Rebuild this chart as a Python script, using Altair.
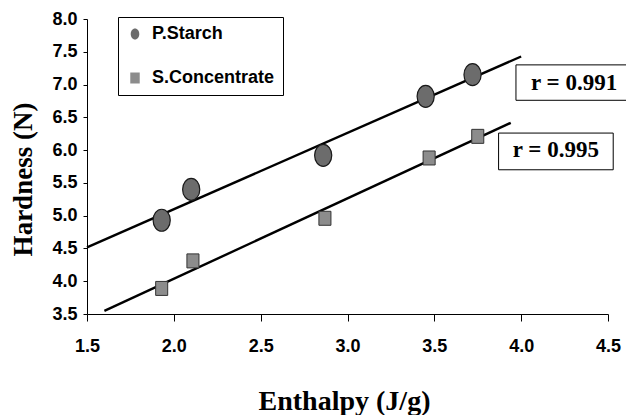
import altair as alt
import pandas as pd

# ---- data ----
series = ["P.Starch", "S.Concentrate"]
enthalpy_starch = [1.93, 2.10, 2.86, 3.45, 3.72]
hardness_starch = [4.93, 5.40, 5.92, 6.82, 7.15]
enthalpy_conc = [1.93, 2.11, 2.87, 3.47, 3.75]
hardness_conc = [3.89, 4.31, 4.96, 5.88, 6.21]
fit_extent_starch = [1.5, 4.0]
fit_extent_conc = [1.6, 3.94]
r_labels = ["r = 0.991", "r = 0.995"]
x_ticks = [1.5, 2.0, 2.5, 3.0, 3.5, 4.0, 4.5]
y_ticks = [3.5, 4.0, 4.5, 5.0, 5.5, 6.0, 6.5, 7.0, 7.5, 8.0]

points = pd.DataFrame({
    "Enthalpy": enthalpy_starch + enthalpy_conc,
    "Hardness": hardness_starch + hardness_conc,
    "series": [series[0]] * len(enthalpy_starch) + [series[1]] * len(enthalpy_conc),
})

# annotation boxes anchored in data space
annot = pd.DataFrame({
    "label": r_labels,
    "x0": [3.97, 3.87], "x1": [4.72, 4.53],
    "y0": [6.76, 5.70], "y1": [7.30, 6.26],
    "tx": [4.305, 4.20], "ty": [7.02, 6.00],
})

ellipse = "M-0.78,0A0.78,1,0,1,0,0.78,0A0.78,1,0,1,0,-0.78,0Z"
square = "M-0.86,-1H0.86V1H-0.86Z"

xscale = alt.Scale(domain=[1.5, 4.5], nice=False, zero=False)
yscale = alt.Scale(domain=[3.5, 8.0], nice=False, zero=False)

xaxis = alt.Axis(values=x_ticks, format=".1f", title="Enthalpy (J/g)", grid=False,
                 tickSize=7, labelPadding=16, labelFontSize=18,
                 labelOverlap=False, labelFlush=False,
                 titleFont="Liberation Serif", titleFontSize=28, titleFontWeight="bold",
                 titleX=257, titleY=95, titleBaseline="alphabetic", titleAlign="center")
yaxis = alt.Axis(values=y_ticks, format=".1f", title="Hardness (N)", grid=False,
                 tickSize=4, labelPadding=6, labelFontSize=18,
                 labelOverlap=False, labelFlush=False, labelBound=False,
                 titleFont="Liberation Serif", titleFontSize=27, titleFontWeight="bold",
                 titleX=-64, titleY=160, titleAngle=270, titleBaseline="middle",
                 titleAlign="center")

legend = alt.Legend(title=None, orient="none", legendX=31, legendY=-2,
                    strokeColor="black", fillColor="white", padding=8, rowPadding=26,
                    labelFont="Liberation Sans", labelFontWeight="bold", labelFontSize=18,
                    labelColor="black", labelOffset=8, symbolSize=121,
                    symbolStrokeColor="#222222", symbolStrokeWidth=1)

shape_enc = alt.Shape("series:N", scale=alt.Scale(domain=series, range=[ellipse, square]),
                      legend=legend)
fill_enc = alt.Fill("series:N", scale=alt.Scale(domain=series, range=["#6c6c6c", "#8c8c8c"]),
                    legend=legend)


def X(field):
    return alt.X(field, type="quantitative", scale=xscale, axis=xaxis)


def Y(field):
    return alt.Y(field, type="quantitative", scale=yscale, axis=yaxis)


base = alt.Chart(points)

boxes = alt.Chart(annot).mark_rect(fill="white", stroke="black", strokeWidth=1).encode(
    x=X("x0"), x2="x1:Q", y=Y("y0"), y2="y1:Q",
)
texts = alt.Chart(annot).mark_text(font="Liberation Serif", fontWeight="bold", fontSize=23,
                                   color="black", baseline="middle", align="center").encode(
    x=X("tx"), y=Y("ty"), text="label:N",
)

line_starch = base.transform_filter(alt.datum.series == series[0]).transform_regression(
    "Enthalpy", "Hardness", extent=fit_extent_starch
).mark_line(color="black", strokeWidth=2.4).encode(x=X("Enthalpy"), y=Y("Hardness"))
line_conc = base.transform_filter(alt.datum.series == series[1]).transform_regression(
    "Enthalpy", "Hardness", extent=fit_extent_conc
).mark_line(color="black", strokeWidth=2.4).encode(x=X("Enthalpy"), y=Y("Hardness"))

pts_starch = base.transform_filter(alt.datum.series == series[0]).mark_point(
    filled=True, size=484, opacity=1, stroke="#1a1a1a", strokeWidth=1.2).encode(
    x=X("Enthalpy"), y=Y("Hardness"), shape=shape_enc, fill=fill_enc)
pts_conc = base.transform_filter(alt.datum.series == series[1]).mark_point(
    filled=True, size=196, opacity=1, stroke="#333333", strokeWidth=1).encode(
    x=X("Enthalpy"), y=Y("Hardness"), shape=shape_enc, fill=fill_enc)

chart = alt.layer(boxes, texts, line_starch, line_conc, pts_starch, pts_conc).properties(
    width=521, height=295,
    autosize=alt.AutoSizeParams(type="none"),
    padding={"left": 87, "top": 19, "right": 18, "bottom": 101},
    background="white",
).configure_view(stroke=None).configure_axis(
    domainColor="black", tickColor="black", domainWidth=1, tickWidth=1,
    labelFont="Liberation Sans", labelFontWeight="bold", labelColor="black",
    titleColor="black", labelOverlap=False,
)

chart.save("out.html", embed_options={"renderer": "svg", "actions": False})
